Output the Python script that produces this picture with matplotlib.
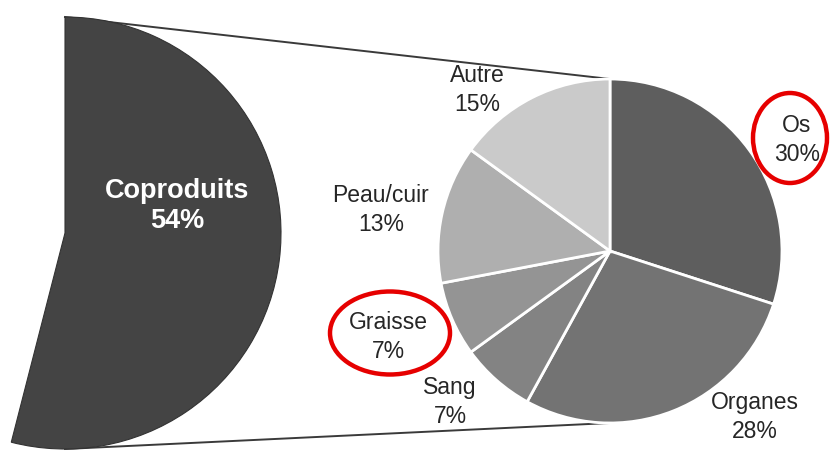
import matplotlib.pyplot as plt
import numpy as np
from matplotlib.patches import Ellipse

plt.rcParams['font.family'] = ['Liberation Sans', 'DejaVu Sans']

# donnees
main_labels = ['Coproduits', 'Reste']
main_values = [54, 46]

sub_labels = ['Os', 'Organes', 'Sang', 'Graisse', 'Peau/cuir', 'Autre']
sub_values = [30, 28, 7, 7, 13, 15]
sub_colors = ['#5e5e5e', '#737373', '#838383', '#949494', '#afafaf', '#cacaca']

highlighted = ['Os', 'Graisse']

# mise en page (en pixels, y vers le haut)
W, H = 831, 451
big_center, big_r = (65, 218), 216
small_center, small_r = (610, 200), 172
coproduits_offset = (112, 27)

# position des etiquettes (decalage par rapport au centre du petit camembert)
label_offsets = {
    'Os': (187, 111),
    'Organes': (145, -166),
    'Sang': (-160, -151),
    'Graisse': (-222, -86),
    'Peau/cuir': (-229, 41),
    'Autre': (-133, 161),
}
ellipse_sizes = {'Os': (74, 90), 'Graisse': (120, 83)}
ellipse_shift = {'Os': (-7, 2), 'Graisse': (2, 4)}

fig = plt.figure(figsize=(W / 100, H / 100), dpi=100)
ax = fig.add_axes([0, 0, 1, 1])

# grand camembert (seule la part Coproduits est visible)
big, _ = ax.pie(main_values, center=big_center, radius=big_r, startangle=90,
                counterclock=False, colors=['#444444', 'none'],
                wedgeprops=dict(edgecolor='none'))
big[0].set_edgecolor('#333333')
big[0].set_linewidth(0.8)

ax.text(big_center[0] + coproduits_offset[0], big_center[1] + coproduits_offset[1],
        f'{main_labels[0]}\n{main_values[0]}%', color='white',
        fontsize=19.5, fontweight='bold', ha='center', va='center', linespacing=1.25)

# lignes de liaison
ax.plot([big_center[0], small_center[0]],
        [big_center[1] + big_r, small_center[1] + small_r],
        color='#3a3a3a', lw=1.4, zorder=0)
ax.plot([big_center[0], small_center[0]],
        [big_center[1] - big_r, small_center[1] - small_r],
        color='#3a3a3a', lw=1.4, zorder=0)

# petit camembert
ax.pie(sub_values, center=small_center, radius=small_r, startangle=90,
       counterclock=False, colors=sub_colors,
       wedgeprops=dict(edgecolor='white', linewidth=2))

for lab, val in zip(sub_labels, sub_values):
    dx, dy = label_offsets[lab]
    x, y = small_center[0] + dx, small_center[1] + dy
    ax.text(x, y, f'{lab}\n{val}%', fontsize=16.5, color='#262626',
            ha='center', va='center', linespacing=1.3)
    if lab in highlighted:
        ex, ey = ellipse_shift[lab]
        w, h = ellipse_sizes[lab]
        ax.add_patch(Ellipse((x + ex, y + ey), w, h, fill=False,
                             edgecolor='#e60000', lw=3.2, zorder=5))

ax.set_xlim(0, W)
ax.set_ylim(0, H)
ax.set_aspect('equal')
ax.axis('off')

fig.savefig('out.png', dpi=100)
